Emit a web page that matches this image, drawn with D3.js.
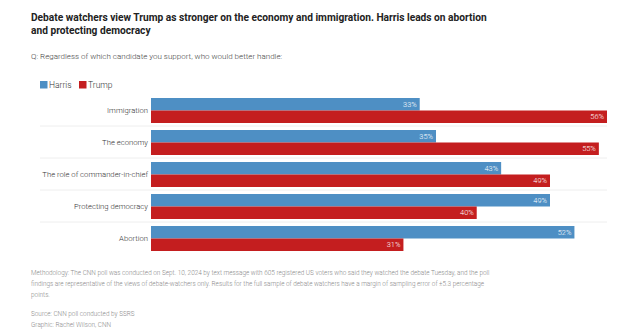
<!DOCTYPE html>
<html><head><meta charset="utf-8">
<script src="https://cdn.jsdelivr.net/npm/d3@7"></script>
<style>
html,body{margin:0;padding:0;background:#fff;}
svg{display:block;}
text{font-family:Roboto,"Liberation Sans",Arial,sans-serif;}
</style></head>
<body>
<svg id="chart" width="639" height="335"></svg>
<script>
const categories = ["Immigration","The economy","The role of commander-in-chief","Protecting democracy","Abortion"];
const harris = [33,35,43,49,52];
const trump = [56,55,49,40,31];
const seriesNames = ["Harris","Trump"];
const colors = ["#4e8fc4","#c41e1f"];
const title = ["Debate watchers view Trump as stronger on the economy and immigration. Harris leads on abortion","and protecting democracy"];
const subtitle = "Q: Regardless of which candidate you support, who would better handle:";
const notes = ["Methodology: The CNN poll was conducted on Sept. 10, 2024 by text message with 605 registered US voters who said they watched the debate Tuesday, and the poll",
 "findings are representative of the views of debate-watchers only. Results for the full sample of debate watchers have a margin of sampling error of \u00b15.3 percentage",
 "points."];
const source = ["Source: CNN poll conducted by SSRS","Graphic: Rachel Wilson, CNN"];

const svg = d3.select("#chart");
const left = 31;

svg.selectAll("text.title").data(title).join("text")
  .attr("class","title").attr("x",left).attr("y",(d,i)=>21+i*13)
  .attr("font-size",10.2).attr("font-weight","bold").attr("fill","#222").text(d=>d);

svg.append("text").attr("x",left).attr("y",59).attr("font-size",8).attr("font-weight",300).attr("fill","#444").text(subtitle);

// legend
const leg = svg.append("g");
const legX = [40,79];
seriesNames.forEach((n,i)=>{
  leg.append("rect").attr("x",legX[i]).attr("y",81).attr("width",7.5).attr("height",7.5).attr("fill",colors[i]);
  leg.append("text").attr("x",legX[i]+9).attr("y",88).attr("font-size",8.5).attr("font-weight",300).attr("fill","#333").text(n);
});

const x = d3.scaleLinear().domain([0,56]).range([151,607]);
const y = d3.scaleBand().domain(categories).range([94,254]).paddingInner(0).paddingOuter(0);
const sub = d3.scaleBand().domain(seriesNames).range([4,29]);

// separators
svg.selectAll("line.sep").data(categories.slice(1)).join("line")
  .attr("class","sep").attr("x1",40).attr("x2",607)
  .attr("y1",d=>y(d)).attr("y2",d=>y(d)).attr("stroke","#eeeeee").attr("stroke-width",1);

const rows = svg.selectAll("g.row").data(categories).join("g").attr("class","row")
  .attr("transform",d=>`translate(0,${y(d)})`);

rows.append("text").attr("x",148).attr("y",sub.range()[0]+ (sub.range()[1]-sub.range()[0])/2)
  .attr("dy","0.35em").attr("text-anchor","end").attr("font-size",7.7).attr("font-weight",300).attr("fill","#333").text(d=>d);

const vals = [harris,trump];
seriesNames.forEach((s,si)=>{
  rows.append("rect").attr("x",x(0)).attr("y",sub(s)).attr("height",sub.bandwidth())
    .attr("width",(d,i)=>x(vals[si][i])-x(0)).attr("fill",colors[si]);
  rows.append("text").attr("x",(d,i)=>x(vals[si][i])-3).attr("y",sub(s)+sub.bandwidth()/2)
    .attr("dy","0.35em").attr("text-anchor","end").attr("font-size",7.4).attr("font-weight",300).attr("fill","#fff")
    .text((d,i)=>vals[si][i]+"%");
});

svg.selectAll("text.note").data(notes).join("text").attr("class","note")
  .attr("x",left).attr("y",(d,i)=>274.5+i*11).attr("font-size",6.4).attr("font-weight",300).attr("fill","#8a8a8a").text(d=>d);
svg.selectAll("text.src").data(source).join("text").attr("class","src")
  .attr("x",left).attr("y",(d,i)=>316+i*10.5).attr("font-size",6.4).attr("font-weight",300).attr("fill","#8a8a8a").text(d=>d);
</script>
</body></html>
